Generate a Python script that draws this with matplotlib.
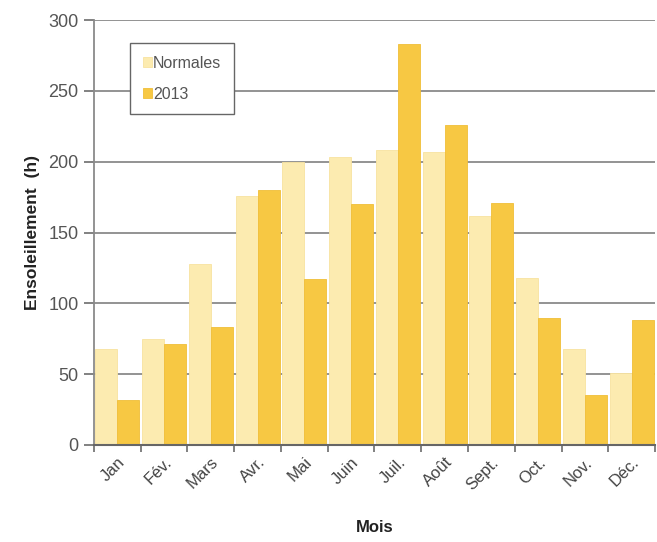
import numpy as np
import matplotlib.pyplot as plt

plt.rcParams['font.family'] = ['Liberation Sans', 'DejaVu Sans']

# Monthly sunshine hours: normals vs 2013
mois = ['Jan', 'Fév.', 'Mars', 'Avr.', 'Mai', 'Juin', 'Juil.', 'Août',
        'Sept.', 'Oct.', 'Nov.', 'Déc.']
normales = [68, 75, 128, 176, 200, 203, 208, 207, 162, 118, 68, 51]
annee_2013 = [32, 71, 83, 180, 117, 170, 283, 226, 171, 90, 35, 88]

fig = plt.figure(figsize=(6.57, 5.42), dpi=100)
ax = fig.add_axes([0.143, 0.179, 0.854, 0.784])

x = np.arange(len(mois))
w = 0.47
ax.bar(x - w / 2, normales, width=w, color='#FCEBB0', edgecolor='#F8E3A0',
       linewidth=0.6, label='Normales', zorder=2)
ax.bar(x + w / 2, annee_2013, width=w, color='#F7C843', edgecolor='#F0BE38',
       linewidth=0.6, label='2013', zorder=2)

ax.set_xlim(-0.5, len(mois) - 0.5)
ax.set_ylim(0, 300)
ax.set_yticks(range(0, 301, 50))
ax.yaxis.grid(True, color='#8a8a8a', linewidth=1.3, zorder=0)
ax.set_axisbelow(True)

# ticks on category boundaries, labels at category centres
ax.set_xticks(np.arange(-0.5, len(mois), 1))
ax.set_xticklabels([])
ax.set_xticks(x, minor=True)
ax.set_xticklabels(mois, minor=True, rotation=45, ha='right',
                   rotation_mode='anchor', fontsize=12, color='#444444')
ax.tick_params(axis='x', which='minor', length=0, pad=7)
ax.tick_params(axis='x', which='major', length=5, color='#777777', width=1.3)
ax.tick_params(axis='y', length=7, color='#777777', width=1.3,
               labelsize=13, labelcolor='#555555', pad=4)

for side in ['top', 'right']:
    ax.spines[side].set_visible(False)
ax.spines['left'].set_color('#8a8a8a')
ax.spines['left'].set_linewidth(1.3)
ax.spines['bottom'].set_color('#666666')
ax.spines['bottom'].set_linewidth(1.5)

ax.set_ylabel('Ensoleillement  (h)', fontsize=12.5, fontweight='bold',
              color='#222222', labelpad=6)
ax.set_xlabel('Mois', fontsize=12, fontweight='bold', color='#222222',
              labelpad=20)

leg = ax.legend(loc='upper left', bbox_to_anchor=(0.05, 0.965), fancybox=False,
                framealpha=1, edgecolor='#666666', fontsize=11.5,
                handlelength=0.55, handleheight=0.55, handletextpad=0.1,
                labelspacing=1.0, borderpad=0.8)
for t in leg.get_texts():
    t.set_color('#555555')

fig.savefig('out.png', dpi=100)
